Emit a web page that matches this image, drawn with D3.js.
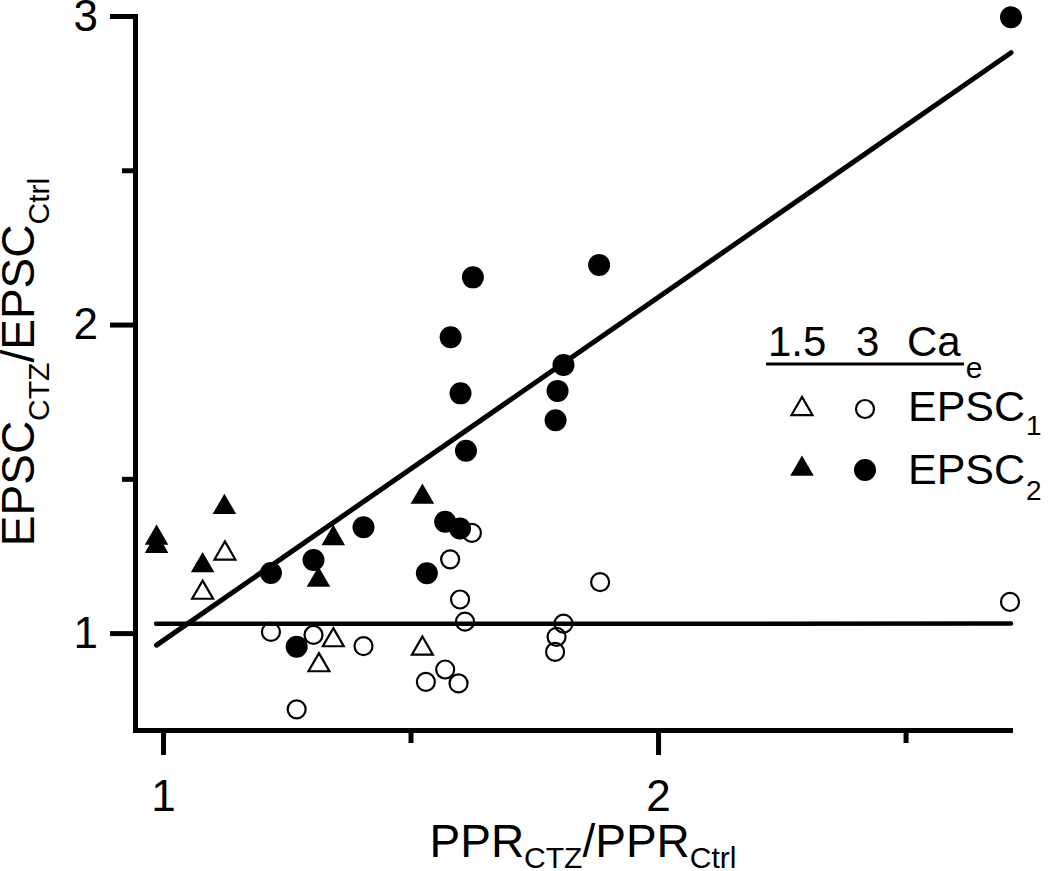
<!DOCTYPE html>
<html><head><meta charset="utf-8">
<script src="https://cdn.jsdelivr.net/npm/d3@7"></script>
<style>
body{margin:0;background:#fff}
text{font-family:"Liberation Sans",Arial,Helvetica,sans-serif;fill:#000}
</style></head>
<body><svg id="c" width="1050" height="871"></svg>
<script>
// ---- data (x = PPR_CTZ/PPR_Ctrl, y = EPSC_CTZ/EPSC_Ctrl) ----
const xTicksMajor = [1, 2];
const xTicksMinor = [1.5, 2.5];
const yTicksMajor = [1, 2, 3];
const yTicksMinor = [1.5, 2.5];

// 1.5 mM Ca_e
const epsc1Ca15 = [[1.125,1.258],[1.080,1.131],[1.344,0.977],[1.315,0.896],[1.524,0.950]];
const epsc2Ca15 = [[0.987,1.308],[0.987,1.282],[1.124,1.408],[1.080,1.219],[1.344,1.307],[1.314,1.172],[1.524,1.441]];
// 3 mM Ca_e
const epsc1Ca3 = [[1.218,1.004],[1.304,0.994],[1.405,0.958],[1.270,0.753],[1.624,1.325],[1.580,1.239],
  [1.600,1.109],[1.610,1.037],[1.570,0.882],[1.531,0.842],[1.597,0.837],[1.809,1.031],[1.795,0.988],
  [1.792,0.939],[1.883,1.165],[2.711,1.101]];
const epsc2Ca3 = [[1.218,1.195],[1.304,1.237],[1.405,1.343],[1.270,0.956],[1.533,1.194],[1.570,1.361],
  [1.600,1.339],[1.612,1.591],[1.601,1.777],[1.581,1.959],[1.626,2.153],[1.793,1.690],[1.797,1.785],
  [1.809,1.869],[1.881,2.193],[2.713,2.996]];
// fitted lines (end points)
const fitEPSC2 = [[0.987,0.961],[2.713,2.881]];
const fitEPSC1 = [[0.986,1.030],[2.713,1.031]];

// ---- drawing ----
const svg = d3.select("#c");
const x = d3.scaleLinear().domain([0.9434, 2.711]).range([135, 1010]);
const y = d3.scaleLinear().domain([0.686, 3]).range([730, 16]);

function styleAxis(g){
  g.selectAll("path.domain").attr("stroke","#000").attr("stroke-width",5).attr("stroke-linecap","square");
  g.selectAll(".tick line").attr("stroke","#000").attr("stroke-width",5);
  g.selectAll(".tick text").attr("font-size",44).attr("fill","#000")
    .attr("font-family",'"Liberation Sans",Arial,sans-serif');
}
const gx = svg.append("g").attr("transform","translate(0,730)")
  .call(d3.axisBottom(x).tickValues(xTicksMajor).tickSize(25).tickPadding(25).tickSizeOuter(0).tickFormat(d3.format("d")));
styleAxis(gx);
const gx2 = svg.append("g").attr("transform","translate(0,730)")
  .call(d3.axisBottom(x).tickValues(xTicksMinor).tickSize(13).tickSizeOuter(0).tickFormat(""));
gx2.select("path.domain").remove(); styleAxis(gx2);

const gy = svg.append("g").attr("transform","translate(135,0)")
  .call(d3.axisLeft(y).tickValues(yTicksMajor).tickSize(25).tickPadding(12).tickSizeOuter(0).tickFormat(d3.format("d")));
styleAxis(gy);
const gy2 = svg.append("g").attr("transform","translate(135,0)")
  .call(d3.axisLeft(y).tickValues(yTicksMinor).tickSize(13).tickSizeOuter(0).tickFormat(""));
gy2.select("path.domain").remove(); styleAxis(gy2);

// fit lines
const line = d3.line().x(d=>x(d[0])).y(d=>y(d[1]));
svg.append("path").datum(fitEPSC2).attr("d",line).attr("fill","none").attr("stroke","#000").attr("stroke-width",5).attr("stroke-linecap","round");
svg.append("path").datum(fitEPSC1).attr("d",line).attr("fill","none").attr("stroke","#000").attr("stroke-width",4.5).attr("stroke-linecap","round");

// markers
const tri = d3.symbol().type(d3.symbolTriangle);
svg.append("g").selectAll("path").data(epsc1Ca15).join("path")
  .attr("d",tri.size(190)()).attr("transform",d=>`translate(${x(d[0])},${y(d[1])})`)
  .attr("fill","none").attr("stroke","#000").attr("stroke-width",2.2);
svg.append("g").selectAll("circle").data(epsc1Ca3).join("circle")
  .attr("cx",d=>x(d[0])).attr("cy",d=>y(d[1])).attr("r",9)
  .attr("fill","none").attr("stroke","#000").attr("stroke-width",2.2);
svg.append("g").selectAll("path").data(epsc2Ca15).join("path")
  .attr("d",tri.size(240)()).attr("transform",d=>`translate(${x(d[0])},${y(d[1])})`)
  .attr("fill","#000");
svg.append("g").selectAll("circle").data(epsc2Ca3).join("circle")
  .attr("cx",d=>x(d[0])).attr("cy",d=>y(d[1])).attr("r",11).attr("fill","#000");

// axis titles
const xt = svg.append("text").attr("x",583).attr("y",857).attr("text-anchor","middle").attr("font-size",46);
xt.append("tspan").text("PPR");
xt.append("tspan").attr("font-size",30).attr("dy",11).text("CTZ");
xt.append("tspan").attr("dy",-11).text("/PPR");
xt.append("tspan").attr("font-size",30).attr("dy",11).text("Ctrl");

const yt = svg.append("text").attr("transform","translate(34,362) rotate(-90)").attr("text-anchor","middle").attr("font-size",46);
yt.append("tspan").text("EPSC");
yt.append("tspan").attr("font-size",30).attr("dy",15).text("CTZ");
yt.append("tspan").attr("dy",-15).text("/EPSC");
yt.append("tspan").attr("font-size",30).attr("dy",15).text("Ctrl");

// legend
const lg = svg.append("g");
lg.append("text").attr("x",768).attr("y",356).attr("font-size",42).text("1.5");
lg.append("text").attr("x",856).attr("y",356).attr("font-size",42).text("3");
const ca = lg.append("text").attr("x",907).attr("y",356).attr("font-size",42);
ca.append("tspan").text("Ca");
ca.append("tspan").attr("font-size",30).attr("dy",22).attr("dx",5).text("e");
lg.append("line").attr("x1",766).attr("x2",964).attr("y1",364).attr("y2",364).attr("stroke","#000").attr("stroke-width",3);
lg.append("path").attr("d",tri.size(190)()).attr("transform","translate(802,409)").attr("fill","none").attr("stroke","#000").attr("stroke-width",2.2);
lg.append("circle").attr("cx",865).attr("cy",409).attr("r",9).attr("fill","none").attr("stroke","#000").attr("stroke-width",2.2);
lg.append("path").attr("d",tri.size(240)()).attr("transform","translate(802,469)").attr("fill","#000");
lg.append("circle").attr("cx",865).attr("cy",470).attr("r",11).attr("fill","#000");
const e1 = lg.append("text").attr("x",908).attr("y",421).attr("font-size",43);
e1.append("tspan").text("EPSC");
e1.append("tspan").attr("font-size",28).attr("dy",14).attr("dx",1).text("1");
const e2 = lg.append("text").attr("x",908).attr("y",484).attr("font-size",43);
e2.append("tspan").text("EPSC");
e2.append("tspan").attr("font-size",28).attr("dy",16).attr("dx",1).text("2");
</script></body></html>
